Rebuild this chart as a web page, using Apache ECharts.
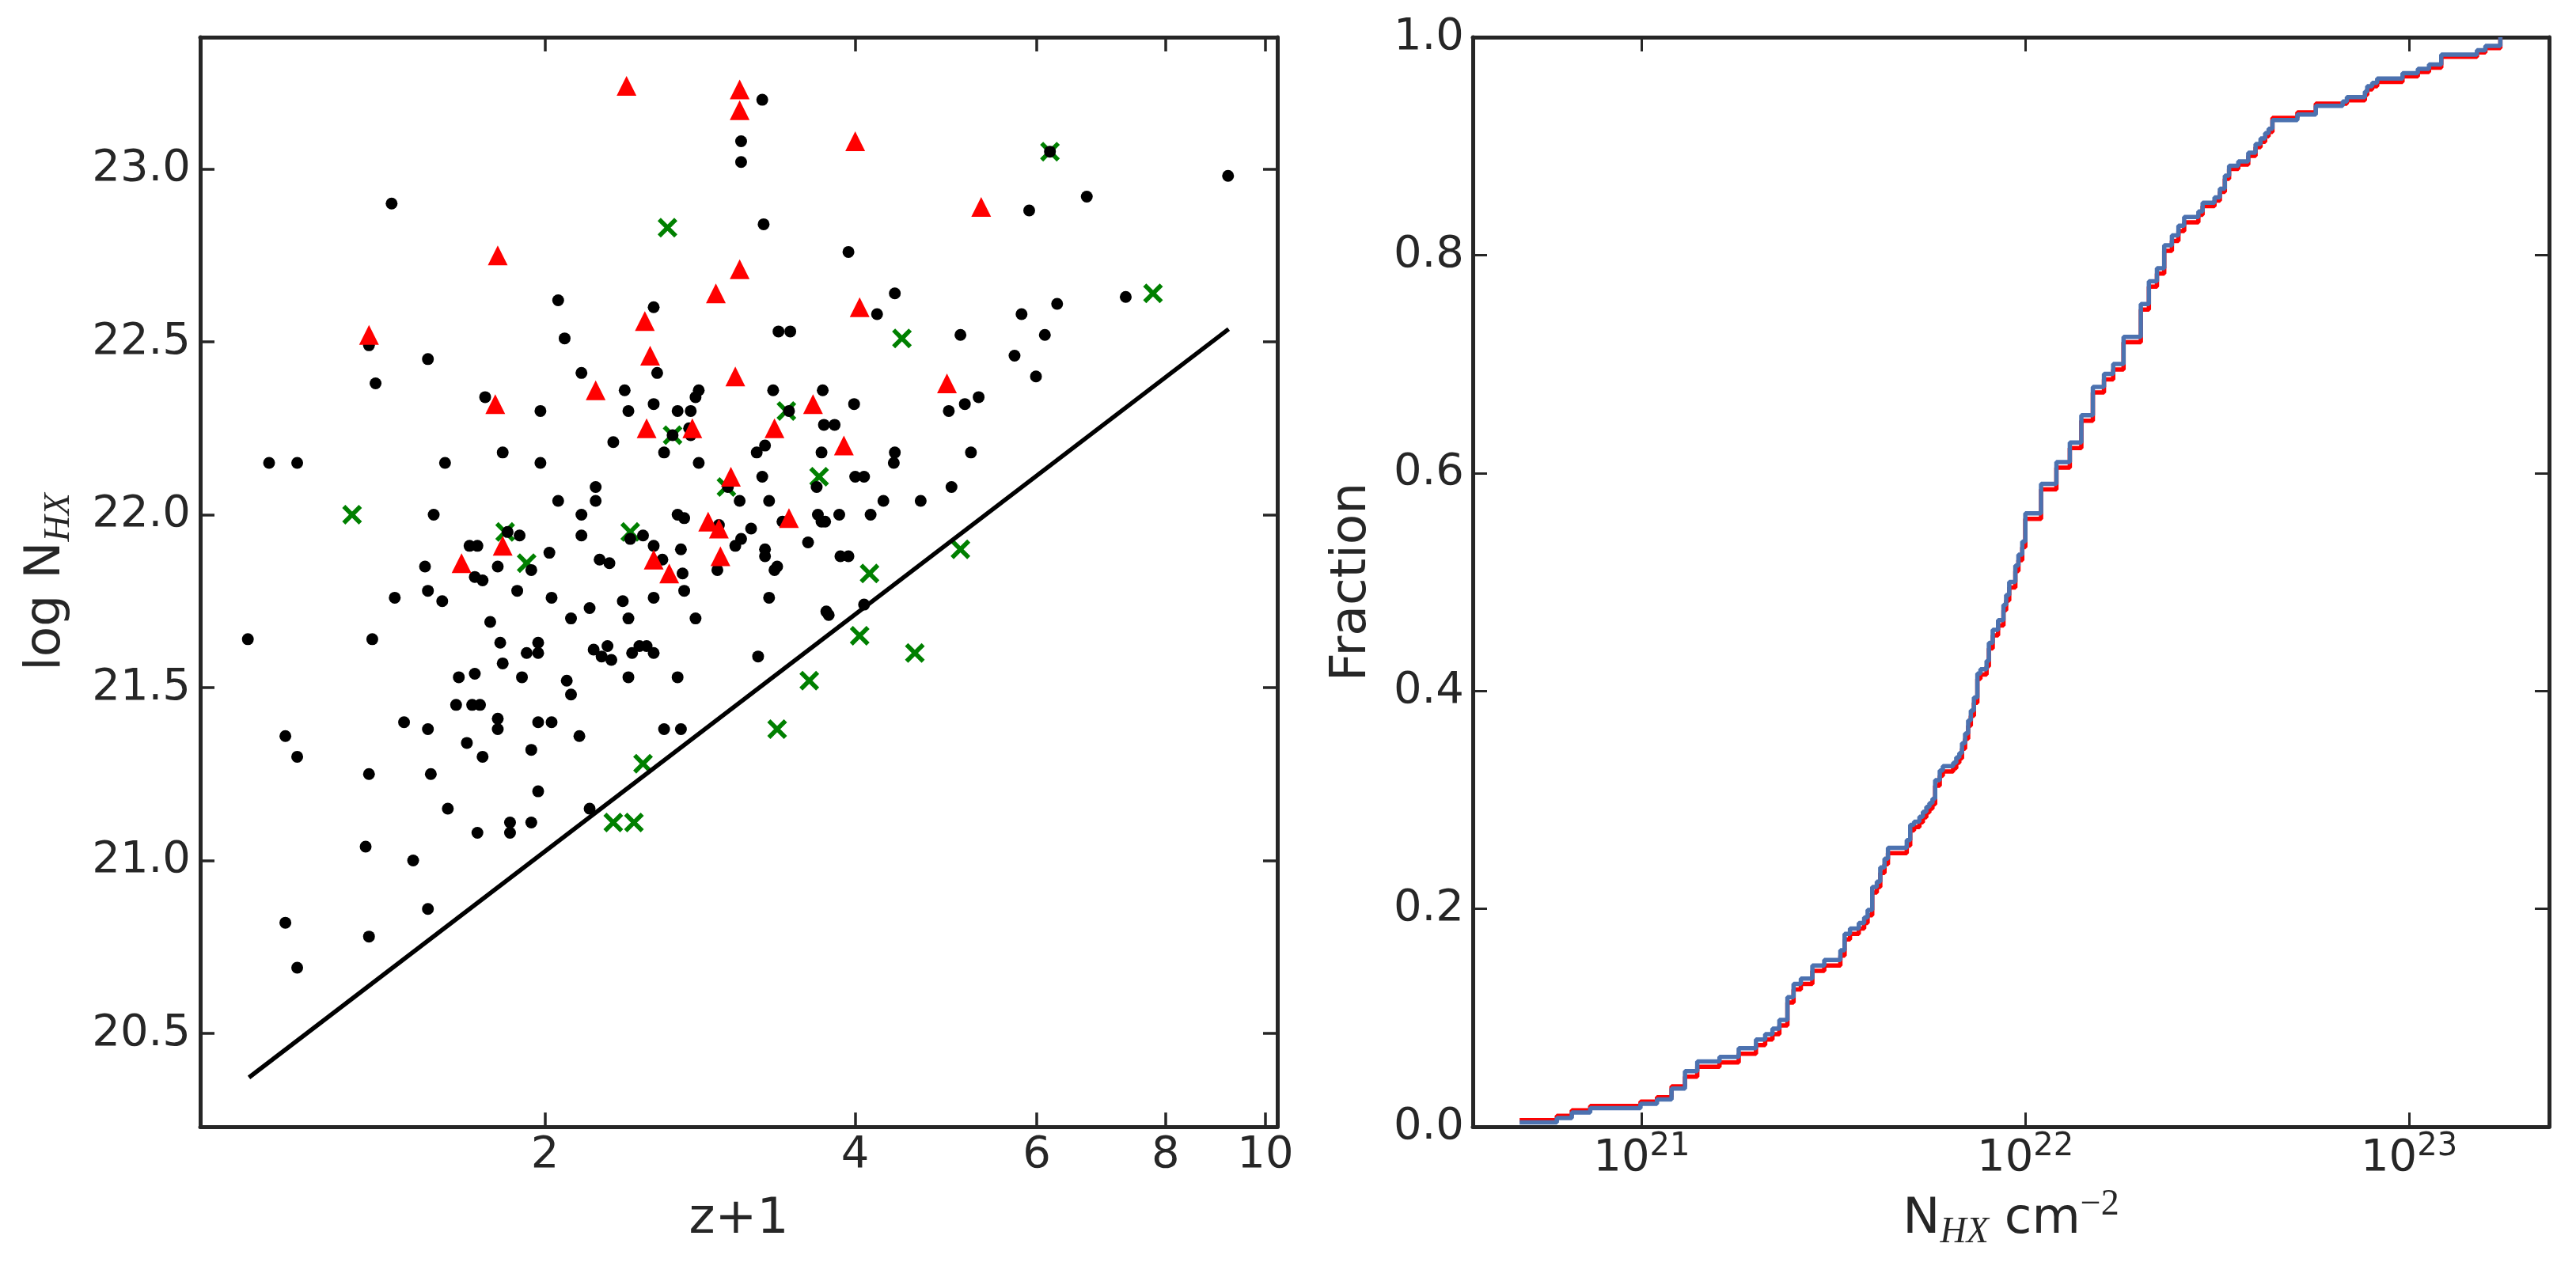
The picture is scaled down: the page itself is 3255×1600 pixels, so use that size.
<!DOCTYPE html>
<html><head><meta charset="utf-8">
<script src="https://cdn.jsdelivr.net/npm/echarts@6/dist/echarts.min.js"></script>
<style>html,body{margin:0;padding:0;background:#fff}#c{width:3255px;height:1600px}</style>
</head><body><div id="c"></div>
<script>
// ---------------- data (left panel: z+1 vs log N_HX) ----------------
const blackPoints = [
[1.42,22.90],[1.35,22.49],[1.54,22.45],[1.37,22.38],[2.06,22.62],[2.55,22.60],[2.09,22.51],[2.17,22.41],[2.57,22.41],[2.39,22.36],
[2.82,22.36],[2.80,22.34],[1.75,22.34],[1.98,22.30],[2.41,22.30],[2.55,22.32],[2.69,22.30],[2.77,22.30],[2.76,22.25],[2.77,22.23],
[2.66,22.23],[2.33,22.21],[1.82,22.18],[2.61,22.18],[1.08,22.15],[1.15,22.15],[1.60,22.15],[1.98,22.15],[2.82,22.15],[2.24,22.08],
[2.06,22.04],[2.24,22.04],[1.56,22.00],[2.17,22.00],[2.69,22.00],[2.73,21.99],[1.84,21.95],[1.89,21.94],[2.17,21.94],[2.49,21.94],
[2.42,21.93],[1.69,21.91],[1.72,21.91],[2.55,21.91],[2.02,21.89],[2.71,21.90],
[3.25,23.20],[3.10,23.08],[3.10,23.02],[6.18,23.05],[9.20,22.98],[6.71,22.92],[5.90,22.88],[3.26,22.84],[3.94,22.76],[4.37,22.64],
[7.32,22.63],[4.20,22.58],[6.28,22.61],[5.80,22.58],[3.37,22.53],[3.46,22.53],[5.06,22.52],[6.11,22.52],[5.71,22.46],[5.99,22.40],
[3.33,22.36],[3.72,22.36],[3.45,22.30],[3.99,22.32],[5.27,22.34],[5.11,22.32],[4.93,22.30],[3.73,22.26],[3.82,22.26],[3.27,22.20],
[3.21,22.18],[3.71,22.18],[4.37,22.18],[4.36,22.15],[5.18,22.18],[3.25,22.11],[4.00,22.11],[4.08,22.11],[3.67,22.08],[4.96,22.08],
[3.01,22.08],[3.09,22.04],[3.30,22.04],[4.26,22.04],[4.63,22.04],[3.68,22.00],[3.86,22.00],[4.14,22.00],[3.40,21.98],[3.71,21.98],
[3.74,21.98],[2.95,21.97],[3.17,21.96],[3.10,21.93],[3.06,21.91],[3.60,21.92],[3.27,21.90],
[1.53,21.85],[1.80,21.85],[1.94,21.84],[2.26,21.87],[2.31,21.86],[2.60,21.87],[2.72,21.83],[2.73,21.78],[2.80,21.70],[1.71,21.82],
[1.74,21.81],[1.88,21.78],[1.54,21.78],[1.43,21.76],[1.59,21.75],[2.03,21.76],[2.38,21.75],[2.55,21.76],[2.21,21.73],[1.77,21.69],
[2.12,21.70],[2.41,21.70],[1.03,21.64],[1.36,21.64],[1.81,21.63],[1.97,21.63],[1.92,21.60],[1.97,21.60],[2.23,21.61],[2.30,21.62],
[2.27,21.59],[2.32,21.58],[2.47,21.62],[2.51,21.62],[2.43,21.60],[2.55,21.60],[1.82,21.57],[1.65,21.53],[1.71,21.54],[1.90,21.53],
[2.10,21.52],[2.41,21.53],[2.69,21.53],[2.12,21.48],[1.64,21.45],[1.70,21.45],[1.73,21.45],[1.80,21.41],[1.80,21.38],[1.46,21.40],
[1.54,21.38],[1.97,21.40],[2.03,21.40],[2.16,21.36],[2.61,21.38],[2.71,21.38],[1.12,21.36],[1.68,21.34],[1.15,21.30],[1.74,21.30],
[1.94,21.32],[1.35,21.25],[1.55,21.25],[1.97,21.20],[1.61,21.15],[2.21,21.15],[1.85,21.11],[1.94,21.11],[1.72,21.08],[1.85,21.08],
[1.34,21.04],[1.49,21.00],[1.54,20.86],[1.12,20.82],[1.35,20.78],[1.15,20.69],
[3.27,21.88],[3.87,21.88],[3.94,21.88],[2.94,21.84],[3.34,21.84],[3.36,21.85],[3.30,21.76],[3.75,21.72],[3.77,21.71],[4.08,21.74],
[3.22,21.59]
];
const redPoints = [
[2.40,23.24],[1.80,22.75],[1.35,22.52],[2.50,22.56],[2.53,22.46],[2.24,22.36],[1.79,22.32],[2.51,22.25],[2.78,22.25],[2.88,21.98],
[1.82,21.91],[3.09,23.23],[3.09,23.17],[4.00,23.08],[5.30,22.89],[3.09,22.71],[2.93,22.64],[4.04,22.60],[3.06,22.40],[4.91,22.38],
[3.64,22.32],[3.34,22.25],[3.90,22.20],[3.03,22.11],[3.45,21.99],[2.95,21.96],[1.66,21.86],[2.55,21.87],[2.64,21.83],[2.96,21.88]
];
const greenPoints = [
[2.63,22.83],[1.30,22.00],[2.66,22.23],[1.83,21.95],[2.42,21.95],[6.18,23.05],[7.78,22.64],[4.44,22.51],[3.43,22.30],[3.69,22.11],
[3.00,22.08],[5.06,21.90],[1.92,21.86],[2.49,21.28],[2.33,21.11],[2.44,21.11],[4.13,21.83],[4.04,21.65],[4.57,21.60],[3.61,21.52],
[3.36,21.38]
];
const limitLine = [[1.0325,20.3725],[9.212,22.537]];
const zTicks = [2,4,6,8,10];
const nhTicks = [20.5,21.0,21.5,22.0,22.5,23.0];

// ---------------- data (right panel: cumulative fraction vs N_HX) ----------------
const ecdfLogNH = [
20.682,20.779,20.818,20.866,20.997,21.040,21.078,21.113,21.145,21.203,
21.253,21.298,21.322,21.341,21.359,21.380,21.396,21.415,21.445,21.476,
21.518,21.529,21.543,21.566,21.580,21.589,21.601,21.613,21.622,21.633,
21.642,21.691,21.700,21.710,21.724,21.733,21.742,21.750,21.758,21.765,
21.777,21.785,21.812,21.820,21.828,21.835,21.843,21.851,21.858,21.866,
21.875,21.883,21.899,21.905,21.915,21.929,21.943,21.950,21.958,21.974,
21.982,21.992,22.000,22.041,22.081,22.116,22.146,22.176,22.205,22.229,
22.256,22.301,22.322,22.343,22.362,22.382,22.399,22.414,22.451,22.462,
22.493,22.507,22.520,22.531,22.555,22.581,22.600,22.613,22.625,22.634,
22.644,22.709,22.757,22.827,22.838,22.885,22.891,22.904,22.917,22.983,
23.023,23.052,23.084,23.177,23.199,23.238
];
const blueFrac = [
0.004,0.008,0.013,0.017,0.021,0.025,0.035,0.051,0.060,0.064,
0.072,0.080,0.085,0.090,0.098,0.119,0.131,0.136,0.148,0.153,
0.162,0.177,0.182,0.187,0.192,0.199,0.220,0.225,0.238,0.246,
0.256,0.263,0.277,0.280,0.2845,0.289,0.2935,0.297,0.301,0.318,
0.327,0.331,0.334,0.339,0.343,0.352,0.361,0.373,0.382,0.394,
0.416,0.420,0.4275,0.444,0.456,0.465,0.479,0.488,0.500,0.515,
0.525,0.537,0.563,0.590,0.610,0.628,0.653,0.679,0.691,0.700,
0.725,0.755,0.776,0.788,0.809,0.818,0.827,0.835,0.840,0.848,
0.853,0.861,0.873,0.882,0.886,0.894,0.902,0.907,0.912,0.916,
0.924,0.929,0.937,0.941,0.945,0.950,0.955,0.958,0.962,0.967,
0.971,0.975,0.984,0.988,0.992,1.000
];
const redFrac = [
0.006,0.010,0.015,0.019,0.023,0.027,0.037,0.046,0.055,0.059,
0.067,0.075,0.080,0.085,0.093,0.114,0.126,0.131,0.143,0.148,
0.157,0.172,0.177,0.182,0.187,0.194,0.215,0.220,0.233,0.241,
0.251,0.258,0.272,0.275,0.2795,0.284,0.2885,0.292,0.296,0.313,
0.322,0.326,0.329,0.334,0.338,0.347,0.356,0.368,0.377,0.389,
0.411,0.415,0.4225,0.439,0.451,0.460,0.474,0.483,0.495,0.510,
0.520,0.532,0.558,0.585,0.605,0.623,0.648,0.674,0.686,0.695,
0.720,0.750,0.771,0.783,0.804,0.813,0.822,0.830,0.837,0.845,
0.850,0.858,0.870,0.879,0.883,0.891,0.899,0.904,0.909,0.913,
0.926,0.931,0.939,0.939,0.942,0.947,0.952,0.955,0.959,0.964,
0.968,0.972,0.982,0.986,0.990,1.000
];
const nhExpTicks = [21,22,23];

// ---------------- chart ----------------
const INK = '#262626';
const SANS = 'DejaVu Sans';
const SERIF = 'Liberation Serif';
const TICK_FS = 56, NAME_FS = 63;

const zMin = 0.926, zMax = 10.27;
const nhMin = 20.23, nhMax = 23.381;
const eMin = 20.56, eMax = 23.365;

const lineStyle = w => ({color: INK, width: w});
const zTickPos = zTicks.map(v => Math.log10(v));

const chart = echarts.init(document.getElementById('c'), null, {renderer: 'canvas'});
chart.setOption({
  animation: false,
  backgroundColor: '#fff',
  textStyle: {fontFamily: SANS, color: INK},
  grid: [
    {left: 253, top: 47, width: 1361, height: 1377, outerBoundsMode: 'none', containLabel: false},
    {left: 1861, top: 47, width: 1360, height: 1377, outerBoundsMode: 'none', containLabel: false}
  ],
  xAxis: [
    {gridIndex: 0, type: 'log', logBase: 10, min: zMin, max: zMax, position: 'bottom',
     axisLine: {show: true, onZero: false, lineStyle: lineStyle(5)}, axisTick: {show: false},
     axisLabel: {show: false}, splitLine: {show: false}, minorTick: {show: false}},
    {gridIndex: 0, type: 'value', min: Math.log10(zMin), max: Math.log10(zMax), position: 'bottom',
     axisLine: {show: false, onZero: false},
     axisTick: {show: true, inside: true, length: 18, lineStyle: lineStyle(3.5), customValues: zTickPos},
     axisLabel: {show: true, customValues: zTickPos, margin: 8, fontSize: TICK_FS, fontFamily: SANS, color: INK,
       formatter: v => String(Math.round(Math.pow(10, v)))},
     splitLine: {show: false},
     name: 'z+1', nameLocation: 'middle', nameGap: 86, nameMoveOverlap: false,
     nameTextStyle: {fontSize: NAME_FS, fontFamily: SANS, color: INK}},
    {gridIndex: 0, type: 'value', min: Math.log10(zMin), max: Math.log10(zMax), position: 'top',
     axisLine: {show: true, onZero: false, lineStyle: lineStyle(5)},
     axisTick: {show: true, inside: true, length: 18, lineStyle: lineStyle(3.5), customValues: zTickPos},
     axisLabel: {show: false}, splitLine: {show: false}},
    {gridIndex: 1, type: 'log', logBase: 10, min: Math.pow(10, eMin), max: Math.pow(10, eMax), position: 'bottom',
     axisLine: {show: true, onZero: false, lineStyle: lineStyle(5)}, axisTick: {show: false},
     axisLabel: {show: false}, splitLine: {show: false}, minorTick: {show: false}},
    {gridIndex: 1, type: 'value', min: eMin, max: eMax, position: 'bottom',
     axisLine: {show: false, onZero: false},
     axisTick: {show: true, inside: true, length: 18, lineStyle: lineStyle(3), customValues: nhExpTicks},
     axisLabel: {show: true, customValues: nhExpTicks, margin: 6, color: INK,
       formatter: v => '{b|10}{s|' + Math.round(v) + '}',
       rich: {
         b: {fontSize: TICK_FS, fontFamily: SANS, color: INK, lineHeight: 62, verticalAlign: 'bottom'},
         s: {fontSize: 40, fontFamily: SANS, color: INK, lineHeight: 30, verticalAlign: 'top'}
       }},
     splitLine: {show: false},
     name: '{n|N}{s|HX}{n| cm}{p|\u22122}', nameLocation: 'middle', nameGap: 76, nameMoveOverlap: false,
     nameTextStyle: {fontSize: NAME_FS, fontFamily: SANS, color: INK,
       rich: {
         n: {fontSize: NAME_FS, fontFamily: SANS, color: INK, verticalAlign: 'top', padding: [10, 0, 0, 0]},
         s: {fontSize: 46, fontFamily: SERIF, fontStyle: 'italic', color: INK, verticalAlign: 'top', padding: [35, 0, 0, 0]},
         p: {fontSize: 46, fontFamily: SERIF, color: INK, verticalAlign: 'top', padding: [0, 0, 0, 0]}
       }}},
    {gridIndex: 1, type: 'value', min: eMin, max: eMax, position: 'top',
     axisLine: {show: true, onZero: false, lineStyle: lineStyle(5)},
     axisTick: {show: true, inside: true, length: 18, lineStyle: lineStyle(3), customValues: nhExpTicks},
     axisLabel: {show: false}, splitLine: {show: false}}
  ],
  yAxis: [
    {gridIndex: 0, type: 'value', min: nhMin, max: nhMax, position: 'left',
     axisLine: {show: true, onZero: false, lineStyle: lineStyle(5)},
     axisTick: {show: true, inside: true, length: 18, lineStyle: lineStyle(3.5), customValues: nhTicks},
     axisLabel: {show: true, customValues: nhTicks, margin: 12, fontSize: TICK_FS, fontFamily: SANS, color: INK,
       formatter: v => v.toFixed(1)},
     splitLine: {show: false},
     name: '{n|log N}{s|HX}', nameLocation: 'middle', nameGap: 155, nameMoveOverlap: false,
     nameTextStyle: {fontSize: NAME_FS, fontFamily: SANS, color: INK,
       rich: {
         n: {fontSize: NAME_FS, fontFamily: SANS, color: INK, verticalAlign: 'top', padding: [10, 0, 0, 0]},
         s: {fontSize: 46, fontFamily: SERIF, fontStyle: 'italic', color: INK, verticalAlign: 'top', padding: [35, 0, 0, 0]}
       }}},
    {gridIndex: 0, type: 'value', min: nhMin, max: nhMax, position: 'right',
     axisLine: {show: true, onZero: false, lineStyle: lineStyle(5)},
     axisTick: {show: true, inside: true, length: 18, lineStyle: lineStyle(3.5), customValues: nhTicks},
     axisLabel: {show: false}, splitLine: {show: false}},
    {gridIndex: 1, type: 'value', min: 0, max: 1, interval: 0.2, position: 'left',
     axisLine: {show: true, onZero: false, lineStyle: lineStyle(5)},
     axisTick: {show: true, inside: true, length: 18, lineStyle: lineStyle(3)},
     axisLabel: {show: true, margin: 11, fontSize: TICK_FS, fontFamily: SANS, color: INK,
       formatter: v => v.toFixed(1)},
     splitLine: {show: false},
     name: 'Fraction', nameLocation: 'middle', nameGap: 121, nameMoveOverlap: false,
     nameTextStyle: {fontSize: NAME_FS, fontFamily: SANS, color: INK}},
    {gridIndex: 1, type: 'value', min: 0, max: 1, interval: 0.2, position: 'right',
     axisLine: {show: true, onZero: false, lineStyle: lineStyle(5)},
     axisTick: {show: true, inside: true, length: 18, lineStyle: lineStyle(3)},
     axisLabel: {show: false}, splitLine: {show: false}}
  ],
  series: [
    {type: 'line', xAxisIndex: 0, yAxisIndex: 0, data: limitLine, symbol: 'none', silent: true,
     lineStyle: {color: '#000', width: 5.5}},
    {type: 'scatter', xAxisIndex: 0, yAxisIndex: 0, data: greenPoints, silent: true,
     symbol: 'path://M0,3.8L3.8,0L12,8.2L20.2,0L24,3.8L15.8,12L24,20.2L20.2,24L12,15.8L3.8,24L0,20.2L8.2,12Z',
     symbolSize: 25, itemStyle: {color: '#008000', opacity: 1}},
    {type: 'scatter', xAxisIndex: 0, yAxisIndex: 0, data: blackPoints, silent: true,
     symbol: 'circle', symbolSize: 15, itemStyle: {color: '#000', opacity: 1}},
    {type: 'scatter', xAxisIndex: 0, yAxisIndex: 0, data: redPoints, silent: true,
     symbol: 'triangle', symbolSize: [25, 25], itemStyle: {color: '#ff0000', opacity: 1}},
    {type: 'line', xAxisIndex: 3, yAxisIndex: 2, step: 'end', symbol: 'none', silent: true,
     data: ecdfLogNH.map((L, i) => [Math.pow(10, L), redFrac[i]]),
     lineStyle: {color: '#ff0000', width: 5.5}},
    {type: 'line', xAxisIndex: 3, yAxisIndex: 2, step: 'end', symbol: 'none', silent: true,
     data: ecdfLogNH.map((L, i) => [Math.pow(10, L), blueFrac[i]]),
     lineStyle: {color: '#4c72b0', width: 5.5}}
  ]
});
</script>
</body></html>
